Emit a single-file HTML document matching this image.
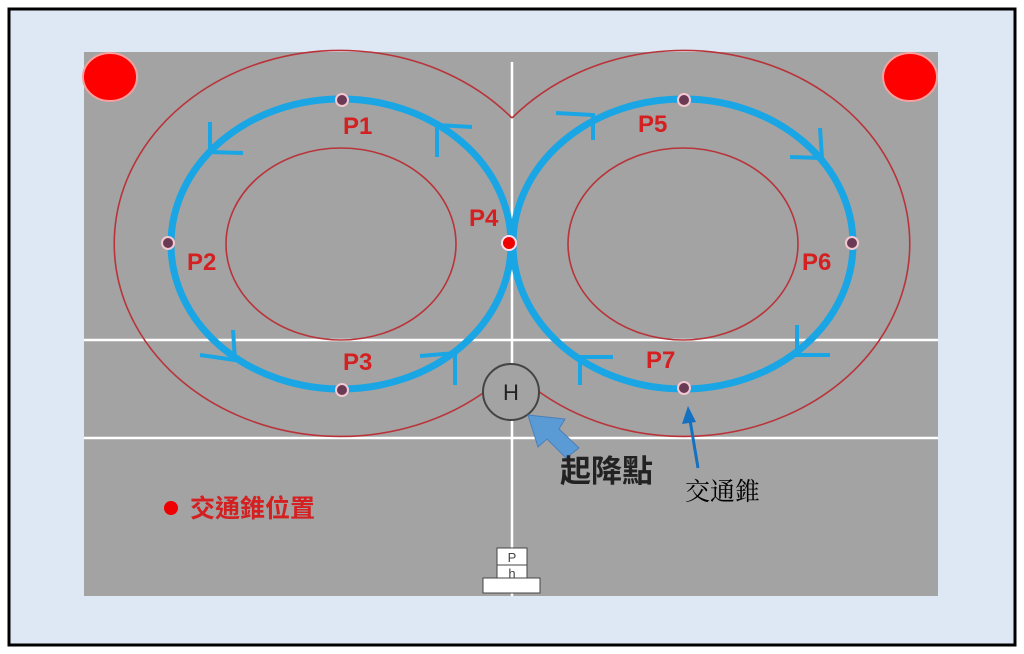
<!DOCTYPE html>
<html><head><meta charset="utf-8"><style>
body{margin:0;width:1024px;height:649px;background:#fff;overflow:hidden}
</style></head><body>
<svg width="1024" height="649" viewBox="0 0 1024 649" xmlns="http://www.w3.org/2000/svg">
<rect x="9" y="9" width="1006" height="636" fill="#dde8f4" stroke="#000" stroke-width="3"/>
<rect x="84" y="52" width="854" height="544" fill="#a3a3a3"/>
<g stroke="#fff" stroke-width="2.5">
<line x1="512" y1="62" x2="512" y2="596"/>
<line x1="84" y1="340" x2="938" y2="340"/>
<line x1="84" y1="438" x2="938" y2="438"/>
</g>
<g fill="none" stroke="#b8343a" stroke-width="1.6">
<path d="M512,118 A226,193 0 1 0 490,388"/>
<path d="M512,118 A226,193 0 1 1 534,388"/>
<ellipse cx="341" cy="244" rx="115" ry="96"/>
<ellipse cx="683" cy="244" rx="115" ry="96"/>
</g>
<g fill="none" stroke="#1aa6e4" stroke-width="7">
<ellipse cx="341" cy="244" rx="170" ry="145"/>
<ellipse cx="683" cy="244" rx="170" ry="145"/>
</g>
<g fill="none" stroke="#1aa6e4" stroke-width="4">
<polyline points="210,122 210,152 243,153"/>
<polyline points="437,157 437,125 472,127"/>
<polyline points="556,113 593,115 593,140"/>
<polyline points="790,157 822,158 820,128"/>
<polyline points="797,325 797,355 830,355"/>
<polyline points="200,355 235,360 233,330"/>
<polyline points="420,356 455,353 455,385"/>
<polyline points="613,357 580,357 580,385"/>
</g>
<g fill="#6a3a55" stroke="#f4c8d0" stroke-width="2">
<circle cx="342" cy="100" r="6"/><circle cx="168" cy="243" r="6"/><circle cx="342" cy="390" r="6"/>
<circle cx="684" cy="100" r="6"/><circle cx="852" cy="243" r="6"/><circle cx="684" cy="388" r="6"/>
</g>
<circle cx="509" cy="243" r="7" fill="#e00" stroke="#fde" stroke-width="2"/>
<ellipse cx="110" cy="77" rx="27" ry="24" fill="#f00" stroke="#f7a0a0" stroke-width="2"/>
<ellipse cx="910" cy="77" rx="27" ry="24" fill="#f00" stroke="#f7a0a0" stroke-width="2"/>
<g font-family="Liberation Sans, sans-serif" font-weight="bold" font-size="24" fill="#d42020">
<text x="343" y="134">P1</text><text x="187" y="270">P2</text><text x="343" y="370">P3</text>
<text x="469" y="226">P4</text><text x="638" y="132">P5</text><text x="802" y="270">P6</text><text x="646" y="368">P7</text>
</g>
<circle cx="511" cy="392" r="28" fill="#a3a3a3" stroke="#444" stroke-width="2"/>
<text x="511" y="400" font-family="Liberation Sans, sans-serif" font-size="22" fill="#222" text-anchor="middle">H</text>
<polygon points="528,415 565,419 559,429 579,448 566,458 547,439 538,447" fill="#5b9bd5" stroke="#4a7fb8" stroke-width="1"/>
<text x="560" y="482" font-family="Liberation Sans, 'Noto Sans CJK TC', sans-serif" font-weight="bold" font-size="31" fill="#222">起降點</text>
<line x1="698" y1="468" x2="690" y2="420" stroke="#1470c0" stroke-width="3"/>
<polygon points="688,406 682,424 696,422" fill="#1470c0"/>
<text x="685" y="500" font-family="Liberation Serif, 'Noto Serif CJK SC', serif" font-size="25" fill="#000">交通錐</text>
<circle cx="171" cy="508" r="7" fill="#e00"/>
<text x="190" y="517" font-family="Liberation Sans, 'Noto Sans CJK TC', sans-serif" font-weight="bold" font-size="25" fill="#d42020">交通錐位置</text>
<g fill="#fff" stroke="#444" stroke-width="1">
<rect x="497" y="548" width="30" height="17"/>
<rect x="497" y="565" width="30" height="14"/>
<rect x="483" y="578" width="57" height="15"/>
</g>
<text x="512" y="562" font-family="Liberation Sans, sans-serif" font-size="13" fill="#444" text-anchor="middle">P</text>
<text x="512" y="578" font-family="Liberation Sans, sans-serif" font-size="13" fill="#444" text-anchor="middle">h</text>
</svg>
</body></html>
